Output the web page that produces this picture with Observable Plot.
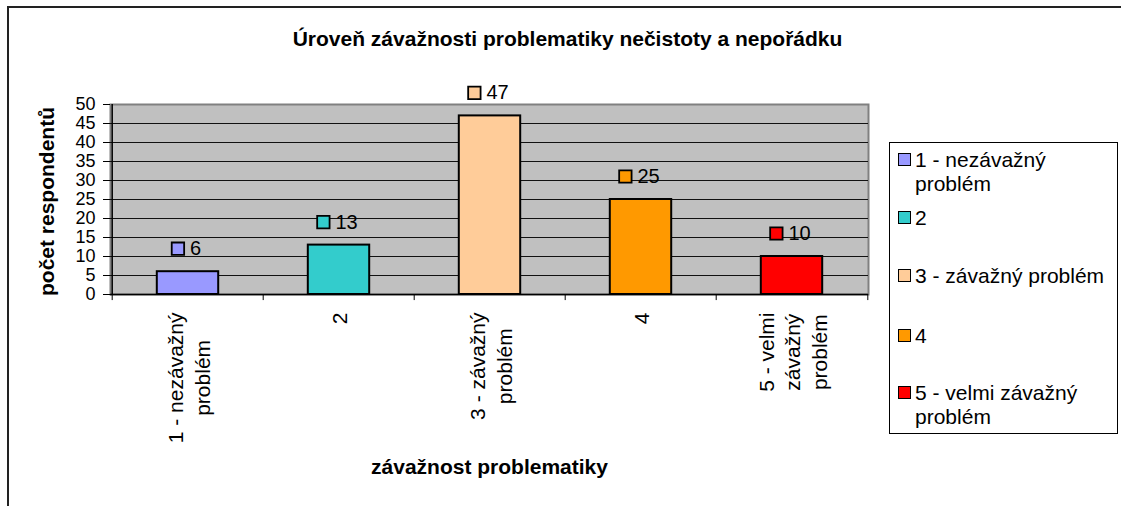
<!DOCTYPE html>
<html>
<head>
<meta charset="utf-8">
<script src="https://cdn.jsdelivr.net/npm/d3@7"></script>
<script src="https://cdn.jsdelivr.net/npm/@observablehq/plot@0.6"></script>
<style>
  html, body { margin: 0; padding: 0; background: #fff; overflow: hidden; }
  #wrap { position: relative; width: 1121px; height: 506px; overflow: hidden; font-family: "Liberation Sans", Arial, sans-serif; color: #000; }
  #chart { position: absolute; left: 0; top: 0; }
  #borderTop { position: absolute; left: 7px; top: 6px; width: 1114px; height: 2px; background: #222; }
  #borderLeft { position: absolute; left: 7px; top: 6px; width: 2px; height: 500px; background: #222; }
  #legend { position: absolute; left: 889px; top: 142px; width: 229px; height: 292px; border: 1px solid #000; box-sizing: border-box; background: #fff; }
  .lg-sw { position: absolute; left: 8px; width: 11px; height: 11px; border: 1.5px solid #000; }
  .lg-tx { position: absolute; left: 25px; font-size: 21px; line-height: 24px; white-space: pre; }
</style>
</head>
<body>
<div id="wrap">
  <div id="chart"></div>
  <div id="borderTop"></div>
  <div id="borderLeft"></div>
  <div id="legend"></div>
</div>
<script>
// ---- data ----
const categories = ["1 - nezávažný problém", "2", "3 - závažný problém", "4", "5 - velmi závažný problém"];
const tickLines = [["1 - nezávažný", "problém"], ["2"], ["3 - závažný", "problém"], ["4"], ["5 - velmi", "závažný", "problém"]];
const values = [6, 13, 47, 25, 10];
const colors = ["#9999FF", "#33CCCC", "#FFCC99", "#FF9900", "#FF0000"];
const legendLines = [["1 - nezávažný", "problém"], ["2"], ["3 - závažný problém"], ["4"], ["5 - velmi závažný", "problém"]];
const yTicks = [0, 5, 10, 15, 20, 25, 30, 35, 40, 45, 50];
const title = "Úroveň závažnosti problematiky nečistoty a nepořádku";
const yTitle = "počet respondentů";
const xTitle = "závažnost problematiky";

const data = categories.map((c, i) => ({cat: c, value: values[i], color: colors[i]}));

// ---- layout ----
const W = 1121, H = 506, ML = 110, MR = 253, MT = 104, MB = 212;
const bw = (W - ML - MR) / categories.length;
const barW = 62;
const FONT = '"Liberation Sans", Arial, sans-serif';
const ctx = document.createElement("canvas").getContext("2d");
function measure(t, font) { ctx.font = font; return ctx.measureText(t).width; }

const tickLabelMarks = categories.map((c, i) => {
  const lines = tickLines[i];
  const len = Math.max(...lines.map(l => measure(l, `21px ${FONT}`)));
  return Plot.text([data[i]], {
    x: "cat", y: () => 0, text: () => lines.join("\n"),
    rotate: -90, textAnchor: "middle", lineAnchor: "middle", lineHeight: 1.25,
    fontSize: 21, dy: 18 + len / 2
  });
});

const valueMarks = data.flatMap(d => {
  const w = measure(String(d.value), `20px ${FONT}`);
  const sq = -w / 2 - 4.5;
  return [
    Plot.dot([d], {x: "cat", y: "value", dy: -23, dx: sq, symbol: "square", r: 7, fill: "color", stroke: "#000", strokeWidth: 1.8}),
    Plot.text([d], {x: "cat", y: "value", text: v => String(v.value), dy: -23, dx: sq + 12, textAnchor: "start", fontSize: 20})
  ];
});

const chart = Plot.plot({
  width: W, height: H,
  marginLeft: ML, marginRight: MR, marginTop: MT, marginBottom: MB,
  style: {fontFamily: FONT, fontSize: "18px", color: "#000", background: "transparent", overflow: "visible"},
  x: {domain: categories, padding: 0, axis: null},
  y: {domain: [0, 50], axis: null},
  color: {type: "identity"},
  marks: [
    Plot.frame({fill: "#C0C0C0", stroke: "#808080", strokeWidth: 2}),
    Plot.gridY(yTicks.filter(t => t > 0 && t < 50), {stroke: "#111", strokeOpacity: 1, strokeWidth: 1}),
    Plot.barY(data, {x: "cat", y: "value", fill: "color", stroke: "#000", strokeWidth: 2, insetLeft: (bw - barW) / 2, insetRight: (bw - barW) / 2}),
    Plot.ruleY([0], {stroke: "#000", strokeWidth: 1.5}),
    Plot.ruleX([categories[0]], {x: d => d, y1: 0, y2: 50, dx: -bw / 2, stroke: "#000", strokeWidth: 1.5}),
    Plot.ruleX(categories, {x: d => d, y1: 0, y2: -1.6, dx: -bw / 2, stroke: "#000", strokeWidth: 1}),
    Plot.ruleX([categories[categories.length - 1]], {x: d => d, y1: 0, y2: -1.6, dx: bw / 2, stroke: "#000", strokeWidth: 1}),
    Plot.axisY(yTicks, {tickSize: 7, tickPadding: 8, fontSize: 18, label: null, stroke: "#000"}),
    ...tickLabelMarks,
    ...valueMarks,
    Plot.text([title], {text: d => d, frameAnchor: "top", textAnchor: "middle", lineAnchor: "middle", dx: 78, dy: -65, fontSize: 21, fontWeight: "bold"}),
    Plot.text([yTitle], {text: d => d, frameAnchor: "left", textAnchor: "middle", lineAnchor: "middle", rotate: -90, dx: -63, dy: 2, fontSize: 21, fontWeight: "bold"}),
    Plot.text([xTitle], {text: d => d, frameAnchor: "bottom", textAnchor: "middle", lineAnchor: "middle", dy: 173, fontSize: 21, fontWeight: "bold"})
  ]
});
document.getElementById("chart").appendChild(chart);

// ---- legend ----
const legend = document.getElementById("legend");
const rowCenters = [17, 75, 133, 193, 250];
legendLines.forEach((lines, i) => {
  const sw = document.createElement("div");
  sw.className = "lg-sw";
  sw.style.background = colors[i];
  sw.style.top = (rowCenters[i] - 7) + "px";
  legend.appendChild(sw);
  const tx = document.createElement("div");
  tx.className = "lg-tx";
  tx.style.top = (rowCenters[i] - 12) + "px";
  tx.textContent = lines.join("\n");
  legend.appendChild(tx);
});
</script>
</body>
</html>
